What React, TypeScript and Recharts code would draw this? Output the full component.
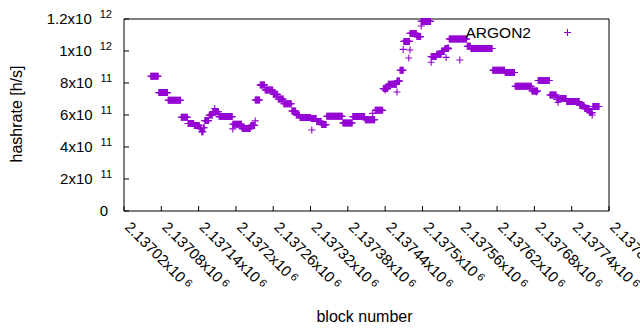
import React from "react";
import { ScatterChart, Scatter, XAxis, YAxis, Legend } from "recharts";

const PURPLE = "#9400d3";
const FONT = "'Liberation Sans', Arial, Helvetica, sans-serif";

// runs of consecutive blocks that share one hashrate reading (start inclusive, end exclusive)
const runStart = [
  2137063, 2137076, 2137091, 2137112, 2137123, 2137133, 2137142, 2137145, 2137148, 2137150,
  2137157, 2137163, 2137173, 2137195, 2137210, 2137224, 2137231, 2137239, 2137247, 2137260,
  2137268, 2137277, 2137290, 2137297, 2137303, 2137321, 2137330, 2137338, 2137346, 2137372,
  2137388, 2137408, 2137424, 2137437, 2137445, 2137459, 2137464, 2137470, 2137480, 2137491,
  2137498, 2137514, 2137523, 2137531, 2137536, 2137543, 2137572, 2137578, 2137613, 2137633,
  2137649, 2137676, 2137686, 2137705, 2137716, 2137721, 2137732, 2137753, 2137761, 2137769,
  2137774,
];
const runEnd = [
  2137076, 2137091, 2137112, 2137123, 2137133, 2137142, 2137145, 2137148, 2137150, 2137157,
  2137163, 2137173, 2137195, 2137210, 2137224, 2137231, 2137239, 2137247, 2137260, 2137268,
  2137277, 2137290, 2137297, 2137303, 2137321, 2137330, 2137338, 2137346, 2137372, 2137388,
  2137408, 2137424, 2137437, 2137445, 2137459, 2137464, 2137470, 2137480, 2137491, 2137498,
  2137514, 2137523, 2137531, 2137536, 2137543, 2137572, 2137578, 2137613, 2137633, 2137649,
  2137676, 2137686, 2137705, 2137716, 2137721, 2137732, 2137753, 2137761, 2137769, 2137774,
  2137785,
];
const runRate = [
  8.42e11, 7.4e11, 6.92e11, 5.86e11, 5.47e11, 5.35e11, 5.15e11, 4.95e11, 5.2e11, 5.65e11,
  6.0e11, 6.2e11, 5.9e11, 5.42e11, 5.15e11, 5.35e11, 6.94e11, 7.88e11, 7.56e11, 7.3e11,
  7.0e11, 6.7e11, 6.25e11, 6.0e11, 5.84e11, 5.78e11, 5.6e11, 5.4e11, 5.92e11, 5.5e11,
  5.9e11, 5.7e11, 6.3e11, 7.65e11, 7.92e11, 8.12e11, 8.8e11, 1.06e12, 1.11e12, 1.09e12,
  1.185e12, 9.65e11, 9.8e11, 1.0e12, 1.015e12, 1.075e12, 1.03e12, 1.016e12, 8.8e11, 8.66e11,
  7.8e11, 7.5e11, 8.16e11, 7.25e11, 6.97e11, 7.03e11, 6.84e11, 6.6e11, 6.4e11, 6.15e11,
  6.53e11,
];

// single blocks off the runs
const spotBlock = [
  2137166, 2137195, 2137231, 2137322, 2137420, 2137440, 2137459, 2137469, 2137478, 2137480,
  2137498, 2137514, 2137538, 2137541, 2137560, 2137683, 2137718, 2137773,
];
const spotRate = [
  6.4e11, 5.13e11, 5.63e11, 5.06e11, 6.1e11, 7.56e11, 7.44e11, 1.01e12, 9.56e11, 1.006e12,
  1.156e12, 9.3e11, 9.6e11, 1.02e12, 9.44e11, 7.44e11, 6.8e11, 6.0e11,
];

const xTicks = [
  2137020, 2137080, 2137140, 2137200, 2137260, 2137320, 2137380, 2137440, 2137500, 2137560,
  2137620, 2137680, 2137740, 2137800,
];
const yTicks = [0, 2e11, 4e11, 6e11, 8e11, 1e12, 1.2e12];

const points: { block: number; rate: number }[] = [];
runStart.forEach((s, i) => {
  for (let b = s; b < runEnd[i]; b++) points.push({ block: b, rate: runRate[i] });
});
spotBlock.forEach((b, i) => points.push({ block: b, rate: spotRate[i] }));

const plusPath = (cx: number, cy: number) =>
  `M${cx - 3.5},${cy}H${cx + 3.5}M${cx},${cy - 3.5}V${cy + 3.5}`;

const Plus = (p: any) => {
  if (p.cx == null || p.cy == null) return null;
  return <path d={plusPath(p.cx, p.cy)} stroke={PURPLE} strokeWidth={1.1} fill="none" />;
};

const sci = (v: number) => {
  const exp = Math.floor(Math.log10(v));
  const mant = String(parseFloat((v / Math.pow(10, exp)).toFixed(5)));
  return { mant, exp };
};

const BottomTick = (p: any) => {
  const { x, y, payload } = p;
  const { mant, exp } = sci(payload.value);
  const ly = y + 17;
  return (
    <g>
      <line x1={x} y1={y} x2={x} y2={y - 5} stroke="#000" />
      <text x={x} y={ly} transform={`rotate(45 ${x} ${ly})`} fontSize={15} fontFamily={FONT} fill="#000">
        {mant}x10
        <tspan dx={3} dy={-3} fontSize={11}>{exp}</tspan>
      </text>
    </g>
  );
};

const TopTick = (p: any) => (
  <line x1={p.x} y1={p.y} x2={p.x} y2={p.y + 5} stroke="#000" />
);

const LeftTick = (p: any) => {
  const { x, y, payload } = p;
  const v = payload.value as number;
  let label: React.ReactNode;
  if (v === 0) {
    label = (
      <text x={x - 16} y={y + 5} textAnchor="end" fontSize={15} fontFamily={FONT} fill="#000">0</text>
    );
  } else {
    const { mant, exp } = sci(v);
    label = (
      <text x={x - 12} y={y + 5} textAnchor="end" fontSize={15} fontFamily={FONT} fill="#000">
        {mant}x10
        <tspan dx={8} dy={-6} fontSize={11}>{exp}</tspan>
      </text>
    );
  }
  return (
    <g>
      <line x1={x} y1={y} x2={x + 5} y2={y} stroke="#000" />
      {label}
    </g>
  );
};

const RightTick = (p: any) => (
  <line x1={p.x} y1={p.y} x2={p.x - 5} y2={p.y} stroke="#000" />
);

const XTitle = (p: any) => {
  const vb = p.viewBox || {};
  return (
    <text x={vb.x + vb.width / 2 - 2} y={322} textAnchor="middle" fontSize={16} fontFamily={FONT} fill="#000">
      block number
    </text>
  );
};

const YTitle = (p: any) => {
  const vb = p.viewBox || {};
  const cy = vb.y + vb.height / 2 - 1;
  return (
    <text x={22} y={cy} transform={`rotate(-90 22 ${cy})`} textAnchor="middle" fontSize={16} fontFamily={FONT} fill="#000">
      hashrate [h/s]
    </text>
  );
};

const KeyBox = () => (
  <svg width={640} height={45} style={{ display: "block" }}>
    <text x={531} y={37.5} textAnchor="end" fontSize={15.5} fontFamily={FONT} fill="#000">ARGON2</text>
    <path d={plusPath(567.5, 32.5)} stroke={PURPLE} strokeWidth={1.1} fill="none" />
  </svg>
);

export default function App() {
  return (
    <div style={{ position: "absolute", left: 0, top: 0, width: 640, height: 330, background: "#fff" }}>
      <ScatterChart width={640} height={330} margin={{ top: 0, right: 0, bottom: 0, left: 0 }}>
        <XAxis
          xAxisId="b"
          type="number"
          dataKey="block"
          domain={[2137020, 2137800]}
          ticks={xTicks}
          interval={0}
          allowDataOverflow
          height={119}
          tickSize={0}
          tickMargin={0}
          tickLine={false}
          axisLine={{ stroke: "#000" }}
          tick={<BottomTick />}
          label={<XTitle />}
        />
        <XAxis
          xAxisId="t"
          orientation="top"
          type="number"
          domain={[2137020, 2137800]}
          ticks={xTicks}
          interval={0}
          allowDataOverflow
          height={19}
          tickSize={0}
          tickMargin={0}
          tickLine={false}
          axisLine={{ stroke: "#000" }}
          tick={<TopTick />}
        />
        <YAxis
          yAxisId="l"
          type="number"
          dataKey="rate"
          domain={[0, 1.2e12]}
          ticks={yTicks}
          interval={0}
          width={124}
          tickSize={0}
          tickMargin={0}
          tickLine={false}
          axisLine={{ stroke: "#000" }}
          tick={<LeftTick />}
          label={<YTitle />}
        />
        <YAxis
          yAxisId="r"
          orientation="right"
          type="number"
          domain={[0, 1.2e12]}
          ticks={yTicks}
          interval={0}
          width={31}
          tickSize={0}
          tickMargin={0}
          tickLine={false}
          axisLine={{ stroke: "#000" }}
          tick={<RightTick />}
        />
        <Legend
          layout="vertical"
          align="center"
          verticalAlign="middle"
          wrapperStyle={{ left: 0, top: 0, width: 640, height: 45 }}
          content={() => <KeyBox />}
        />
        <Scatter
          name="ARGON2"
          data={points}
          xAxisId="b"
          yAxisId="l"
          fill={PURPLE}
          shape={<Plus />}
          isAnimationActive={false}
        />
      </ScatterChart>
    </div>
  );
}
